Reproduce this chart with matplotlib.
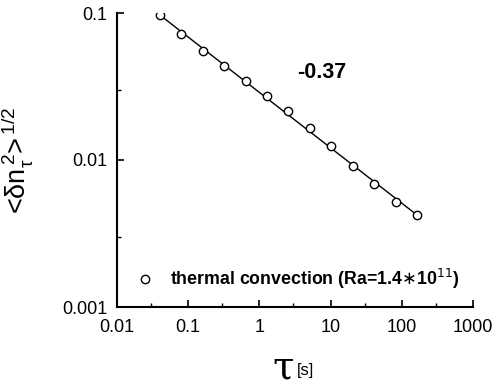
import matplotlib
matplotlib.use("Agg")
import matplotlib.pyplot as plt
import numpy as np
from matplotlib.ticker import FixedLocator, NullFormatter
from matplotlib.transforms import IdentityTransform

# data
tau = [0.04, 0.08, 0.16, 0.32, 0.64, 1.28, 2.56, 5.12, 10.24, 20.48, 40.96, 81.92, 163.84]
dn = [0.0969, 0.0720, 0.0551, 0.0436, 0.0344, 0.0272, 0.0215, 0.0165,
      0.01245, 0.0091, 0.00687, 0.00518, 0.00422]

xticks = [0.01, 0.1, 1, 10, 100, 1000]
xtick_labels = ["0.01", "0.1", "1", "10", "100", "1000"]
yticks = [0.001, 0.01, 0.1]
ytick_labels = ["0.001", "0.01", "0.1"]

plt.rcParams['font.family'] = ['Liberation Sans', 'DejaVu Sans']

fig = plt.figure(figsize=(4.96, 3.90), dpi=100)
ax = fig.add_axes([117 / 496, 1 - 307 / 390, 356 / 496, 294 / 390])

# fit line and points
slope, icpt = np.polyfit(np.log10(tau), np.log10(dn), 1)
xf = np.array([tau[0], tau[-1]])
ax.plot(xf, 10 ** (icpt + slope * np.log10(xf)), color='black', lw=1.0, zorder=2)
ax.plot(tau, dn, linestyle='none', marker='o', ms=6, mfc='white', mec='black',
        mew=1.0, zorder=3, label='thermal convection (Ra=1.4$\\ast$10$^{11}$)')

ax.set_xscale('log')
ax.set_yscale('log')
ax.set_xlim(0.01, 1000)
ax.set_ylim(0.001, 0.1)

ax.xaxis.set_major_locator(FixedLocator(xticks))
ax.set_xticklabels(xtick_labels)
ax.xaxis.set_minor_locator(FixedLocator([0.03, 0.3, 3, 30, 300]))
ax.yaxis.set_major_locator(FixedLocator(yticks))
ax.set_yticklabels(ytick_labels)
ax.yaxis.set_minor_locator(FixedLocator([0.003, 0.03]))
ax.xaxis.set_minor_formatter(NullFormatter())
ax.yaxis.set_minor_formatter(NullFormatter())

ax.tick_params(which='major', direction='in', length=5, width=1.2, labelsize=13)
ax.tick_params(which='minor', direction='in', length=3, width=1.0)
ax.tick_params(axis='x', pad=9)
ax.tick_params(axis='y', pad=7)

for s in ['top', 'right']:
    ax.spines[s].set_visible(False)
for s in ['left', 'bottom']:
    ax.spines[s].set_linewidth(1.5)

fig.text(322, 390 - 72, "-0.37", fontsize=15.5, fontweight='bold',
         ha='center', va='center', transform=IdentityTransform())

leg = ax.legend(loc='center left', bbox_to_anchor=(0.01, 0.095), frameon=False,
                prop={'weight': 'bold', 'size': 12.8}, handletextpad=0.7,
                handlelength=1.4, borderaxespad=0.3)

ax.set_ylabel("<\u03b4$\\mathregular{n_\\tau^{\\,2}}$>$^{\\mathregular{\\,1/2}}$", fontsize=19.5)
ax.yaxis.set_label_coords((35 - 117) / 356, 0.5)
fig.text(283, 390 - 368, "\u03c4", fontsize=28, family='DejaVu Serif',
         ha='center', va='center', transform=IdentityTransform())
fig.text(305, 390 - 370, "[s]", fontsize=12, ha='center', va='center',
         transform=IdentityTransform())

fig.savefig("out.png", dpi=100)
